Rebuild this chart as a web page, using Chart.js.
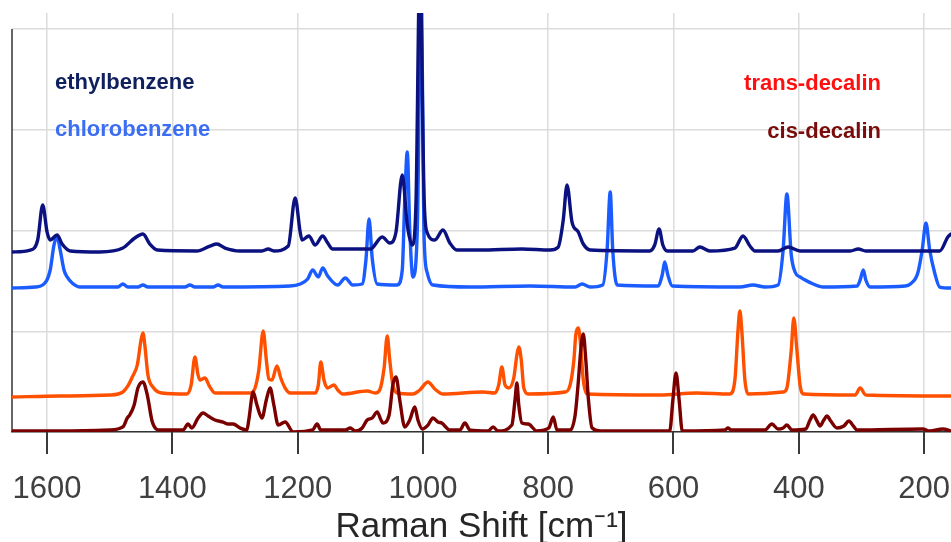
<!DOCTYPE html>
<html>
<head>
<meta charset="utf-8">
<script src="https://cdn.jsdelivr.net/npm/chart.js@4.4.1/dist/chart.umd.min.js"></script>
<style>
html,body{margin:0;padding:0;background:#fff;}
#wrap{width:951px;height:542px;position:relative;}
</style>
</head>
<body>
<div id="wrap"><canvas id="c" width="951" height="542"></canvas></div>
<script>
// ---------- data (Raman shift in cm-1, offset intensity in arbitrary units) ----------
const seriesNames = ['ethylbenzene', 'chlorobenzene', 'cis-decalin', 'trans-decalin'];
const xTickValues = [1600, 1400, 1200, 1000, 800, 600, 400, 200];
const yGridValues = [0, 1, 2, 3, 4];
const xAxisTitle = 'Raman Shift [cm\u207B\u00B9]';

const ethylX = [1656,1627,1615,1607,1600,1595,1584,1576,1563,1516,1479,1460,1447,1436,1424,1361,1340,1329,1316,1292,1257,1247,1238,1215,1204,1196,1193,1182,1172,1160,1152,1144,1084,1065,1053,1043,1033,1025,1017,1011,1005,998,993,981,968,957,946,909,842,797,784,776,770,762,752,744,733,638,630,623,617,610,569,558,542,502,489,478,470,433,417,398,318,305,293,175,162,157];
const ethylY = [1.787,1.806,1.906,2.253,1.985,1.906,1.955,1.866,1.797,1.787,1.826,1.926,1.965,1.866,1.806,1.797,1.846,1.866,1.826,1.797,1.797,1.816,1.797,1.846,2.323,1.985,1.906,1.946,1.856,1.946,1.876,1.816,1.816,1.936,1.876,1.985,2.551,2.055,1.856,2.303,4.6,2.303,1.975,1.906,2.005,1.876,1.806,1.806,1.816,1.806,1.836,2.104,2.452,2.084,1.985,1.866,1.806,1.797,1.856,2.015,1.856,1.797,1.797,1.836,1.797,1.826,1.946,1.846,1.797,1.797,1.836,1.797,1.797,1.816,1.797,1.797,1.936,1.965];

const chloroX = [1656,1619,1607,1595,1589,1584,1579,1573,1568,1560,1547,1487,1479,1471,1455,1447,1439,1380,1372,1364,1335,1327,1319,1212,1196,1184,1176,1167,1160,1152,1136,1124,1112,1097,1091,1086,1081,1073,1041,1033,1029,1025,1021,1016,1009,1003,998,993,984,925,829,757,746,733,713,706,701,697,690,625,618,614,609,602,494,473,454,433,425,419,412,406,398,377,361,307,302,297,293,286,230,222,210,203,197,191,183,175,157];
const chloroY = [1.429,1.439,1.459,1.608,1.856,1.936,1.806,1.608,1.539,1.479,1.439,1.439,1.469,1.439,1.439,1.459,1.439,1.439,1.459,1.439,1.439,1.459,1.439,1.449,1.469,1.519,1.608,1.539,1.628,1.548,1.459,1.529,1.459,1.469,1.707,2.114,1.727,1.469,1.459,1.608,2.303,2.779,2.005,1.539,2.005,4.4,1.906,1.578,1.459,1.439,1.449,1.439,1.469,1.439,1.459,1.806,2.382,1.806,1.459,1.449,1.558,1.687,1.558,1.449,1.439,1.459,1.439,1.459,1.806,2.362,1.757,1.588,1.539,1.469,1.439,1.449,1.509,1.608,1.509,1.439,1.449,1.469,1.578,1.806,2.074,1.806,1.578,1.439,1.429];

const transX = [1656,1579,1500,1479,1471,1464,1456,1450,1447,1444,1439,1431,1417,1377,1370,1364,1359,1356,1348,1341,1332,1276,1268,1262,1255,1250,1246,1241,1233,1227,1219,1212,1172,1167,1163,1158,1152,1142,1136,1128,1089,1076,1069,1062,1057,1053,1048,1041,1016,1005,992,981,968,904,885,879,874,869,863,855,850,847,843,839,832,773,765,759,756,752,749,744,738,622,563,510,502,497,494,491,486,481,425,419,412,408,403,398,392,310,302,293,157];
const transY = [0.347,0.357,0.367,0.397,0.457,0.546,0.665,0.913,0.983,0.864,0.566,0.447,0.387,0.377,0.467,0.744,0.566,0.516,0.536,0.457,0.387,0.387,0.437,0.615,1.003,0.715,0.526,0.516,0.655,0.536,0.427,0.387,0.387,0.467,0.695,0.516,0.437,0.467,0.417,0.377,0.407,0.387,0.417,0.635,0.953,0.715,0.467,0.387,0.377,0.417,0.496,0.427,0.377,0.397,0.387,0.467,0.645,0.467,0.437,0.536,0.764,0.844,0.715,0.437,0.377,0.397,0.467,0.715,0.963,1.032,0.913,0.516,0.377,0.367,0.387,0.377,0.516,1.012,1.201,1.012,0.516,0.377,0.397,0.437,0.814,1.132,0.814,0.467,0.377,0.367,0.437,0.367,0.357];

const cisX = [1656,1579,1500,1479,1472,1468,1461,1455,1447,1440,1432,1420,1383,1375,1369,1359,1351,1343,1332,1319,1311,1303,1292,1281,1278,1271,1265,1257,1250,1244,1238,1231,1220,1207,1176,1169,1163,1124,1116,1108,1097,1089,1081,1073,1067,1064,1054,1048,1043,1037,1029,1021,1013,1008,1001,992,984,976,970,957,941,933,925,896,888,880,858,853,850,847,842,832,818,799,792,786,765,757,752,748,744,740,736,730,717,606,601,596,591,586,518,513,508,454,443,433,425,419,411,389,382,377,371,366,360,355,349,339,328,320,313,307,202,191,170,157];
const cisY = [0.010,0.010,0.020,0.050,0.139,0.169,0.268,0.437,0.496,0.367,0.099,0.020,0.020,0.079,0.040,0.139,0.189,0.159,0.119,0.099,0.079,0.079,0.040,0.020,0.119,0.397,0.268,0.139,0.318,0.437,0.268,0.069,0.099,0.000,0.020,0.079,0.020,0.020,0.040,0.010,0.040,0.119,0.139,0.199,0.119,0.089,0.169,0.467,0.546,0.318,0.050,0.119,0.248,0.119,0.030,0.069,0.139,0.099,0.089,0.020,0.020,0.089,0.020,0.010,0.050,0.010,0.069,0.318,0.486,0.268,0.089,0.079,0.010,0.040,0.149,0.020,0.020,0.169,0.496,0.814,0.973,0.715,0.337,0.040,0.010,0.010,0.318,0.586,0.318,0.010,0.020,0.040,0.020,0.020,0.079,0.030,0.040,0.069,0.020,0.030,0.119,0.169,0.109,0.060,0.119,0.159,0.109,0.040,0.060,0.109,0.060,0.020,0.030,0.010,0.030,0.010];

// ---------- styling ----------
const FONT = '"Liberation Sans", Arial, Helvetica, sans-serif';
Chart.defaults.font.family = FONT;

const lineColors = { ethyl: '#0b1280', chloro: '#1a5cff', trans: '#ff5000', cis: '#7a0000' };
const nameLabels = [
  { text: seriesNames[0], color: '#101f5e', x: 55,  y: 89,  align: 'left'  },
  { text: seriesNames[1], color: '#3b6ef2', x: 55,  y: 136, align: 'left'  },
  { text: seriesNames[3], color: '#ff1010', x: 881, y: 90,  align: 'right' },
  { text: seriesNames[2], color: '#7a0c0c', x: 881, y: 138, align: 'right' }
];
const TICK_LEN = 22;

const toPts = (xs, ys) => xs.map((x, i) => ({ x: x, y: ys[i] }));

// Outward tick marks on the x axis and the left axis line (from the top gridline down),
// both placed through the chart's own scales.
const axisMarksPlugin = {
  id: 'axisMarks',
  beforeDatasetsDraw(chart) {
    const ctx = chart.ctx, xs = chart.scales.x, ys = chart.scales.y, area = chart.chartArea;
    ctx.save();
    ctx.strokeStyle = '#333333';
    ctx.lineWidth = 1.5;
    ctx.beginPath();
    ctx.moveTo(area.left, ys.getPixelForValue(yGridValues[yGridValues.length - 1]));
    ctx.lineTo(area.left, area.bottom);
    ctx.stroke();
    ctx.lineWidth = 2;
    ctx.strokeStyle = '#3a3a3a';
    xTickValues.forEach(v => {
      const px = Math.round(xs.getPixelForValue(v));
      ctx.beginPath();
      ctx.moveTo(px, area.bottom);
      ctx.lineTo(px, area.bottom + TICK_LEN);
      ctx.stroke();
    });
    ctx.restore();
  }
};

const namesPlugin = {
  id: 'seriesNames',
  afterDatasetsDraw(chart) {
    const ctx = chart.ctx;
    ctx.save();
    ctx.font = 'bold 22px ' + FONT;
    ctx.textBaseline = 'alphabetic';
    nameLabels.forEach(l => {
      ctx.fillStyle = l.color;
      ctx.textAlign = l.align;
      ctx.fillText(l.text, l.x, l.y);
    });
    ctx.restore();
  }
};

const ds = (label, xs, ys, color) => ({
  label: label,
  data: toPts(xs, ys),
  borderColor: color,
  backgroundColor: color,
  borderWidth: 3.4,
  pointRadius: 0,
  fill: false,
  cubicInterpolationMode: 'monotone',
  borderJoinStyle: 'round',
  borderCapStyle: 'round'
});

new Chart(document.getElementById('c'), {
  type: 'line',
  data: {
    datasets: [
      ds(seriesNames[0], ethylX, ethylY, lineColors.ethyl),
      ds(seriesNames[1], chloroX, chloroY, lineColors.chloro),
      ds(seriesNames[2], cisX, cisY, lineColors.cis),
      ds(seriesNames[3], transX, transY, lineColors.trans)
    ]
  },
  options: {
    responsive: false,
    animation: false,
    layout: { padding: { top: 13, left: 12, right: 0, bottom: 0 } },
    plugins: { legend: { display: false }, tooltip: { enabled: false } },
    scales: {
      x: {
        type: 'linear',
        reverse: true,
        min: 157,
        max: 1656,
        afterBuildTicks: s => { s.ticks = xTickValues.map(v => ({ value: v })); },
        afterFit: s => { s.paddingLeft = 0; s.paddingRight = 0; s.height = 110; },
        ticks: { font: { size: 31 }, color: '#404040', padding: 39, maxRotation: 0, autoSkip: false,
                 callback: v => String(v) },
        grid: { color: '#dcdcdc', lineWidth: 1.5, drawTicks: false },
        border: { color: '#333333', width: 1.5 },
        title: {
          display: true,
          text: xAxisTitle,
          color: '#262626',
          font: { size: 35, lineHeight: 0.83 },
          padding: { top: 0, bottom: 0 }
        }
      },
      y: {
        type: 'linear',
        min: 0,
        max: 4.159,
        afterBuildTicks: s => { s.ticks = yGridValues.map(v => ({ value: v })); },
        ticks: { display: false },
        grid: { color: '#dcdcdc', lineWidth: 1.5, drawTicks: false },
        border: { display: false }
      }
    }
  },
  plugins: [axisMarksPlugin, namesPlugin]
});
</script>
</body>
</html>
